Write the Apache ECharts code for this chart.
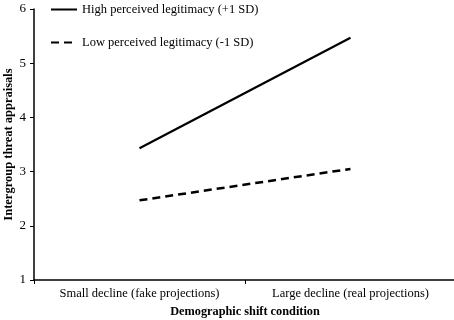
<!DOCTYPE html>
<html>
<head>
<meta charset="utf-8">
<script src="https://cdn.jsdelivr.net/npm/echarts@6/dist/echarts.min.js"></script>
<style>
  html, body { margin: 0; padding: 0; background: #fff; }
  #chart { width: 454px; height: 320px; }
</style>
</head>
<body>
<div id="chart"></div>
<script>
const conditions = ['Small decline (fake projections)', 'Large decline (real projections)'];
const highLegit = [3.43, 5.47];
const lowLegit = [2.47, 3.05];
const seriesNames = ['High perceived legitimacy (+1 SD)', 'Low perceived legitimacy (-1 SD)'];

const font = '"Liberation Serif", "Times New Roman", serif';

const chart = echarts.init(document.getElementById('chart'));

chart.setOption({
  animation: false,
  textStyle: { fontFamily: font, color: '#000' },
  grid: { left: 34, right: -2, top: 9, bottom: 40, outerBoundsMode: 'none' },
  legend: {
    orient: 'vertical',
    left: 50,
    top: 3,
    padding: 0,
    itemWidth: 26,
    itemHeight: 10,
    itemGap: 20,
    data: seriesNames,
    itemStyle: { opacity: 0 },
    textStyle: { fontFamily: font, fontSize: 12.5, color: '#000' },
  },
  xAxis: {
    type: 'category',
    data: conditions,
    name: 'Demographic shift condition',
    nameLocation: 'middle',
    nameGap: 26,
    nameTextStyle: { fontFamily: font, fontSize: 12.3, fontWeight: 'bold', color: '#000' },
    axisLine: { lineStyle: { color: '#000', width: 1.5 } },
    axisTick: { show: true, length: 4, lineStyle: { color: '#000' } },
    axisLabel: { fontFamily: font, fontSize: 12.5, color: '#000', margin: 7 },
  },
  yAxis: {
    type: 'value',
    min: 1,
    max: 6,
    interval: 1,
    name: 'Intergroup threat appraisals',
    nameLocation: 'middle',
    nameGap: 19,
    nameMoveOverlap: false,
    nameTextStyle: { fontFamily: font, fontSize: 12.5, fontWeight: 'bold', color: '#000' },
    axisLine: { show: true, lineStyle: { color: '#000', width: 1.5 } },
    axisTick: { show: true, length: 4, lineStyle: { color: '#000' } },
    axisLabel: { fontFamily: font, fontSize: 13, color: '#000', margin: 8 },
    splitLine: { show: false },
  },
  series: [
    {
      name: seriesNames[0],
      type: 'line',
      data: highLegit,
      symbol: 'none',
      lineStyle: { color: '#000', width: 2.2 },
      itemStyle: { color: '#000' },
    },
    {
      name: seriesNames[1],
      type: 'line',
      data: lowLegit,
      symbol: 'none',
      lineStyle: { color: '#000', width: 2.5, type: [8, 5] },
      itemStyle: { color: '#000' },
    },
  ],
});
</script>
</body>
</html>
